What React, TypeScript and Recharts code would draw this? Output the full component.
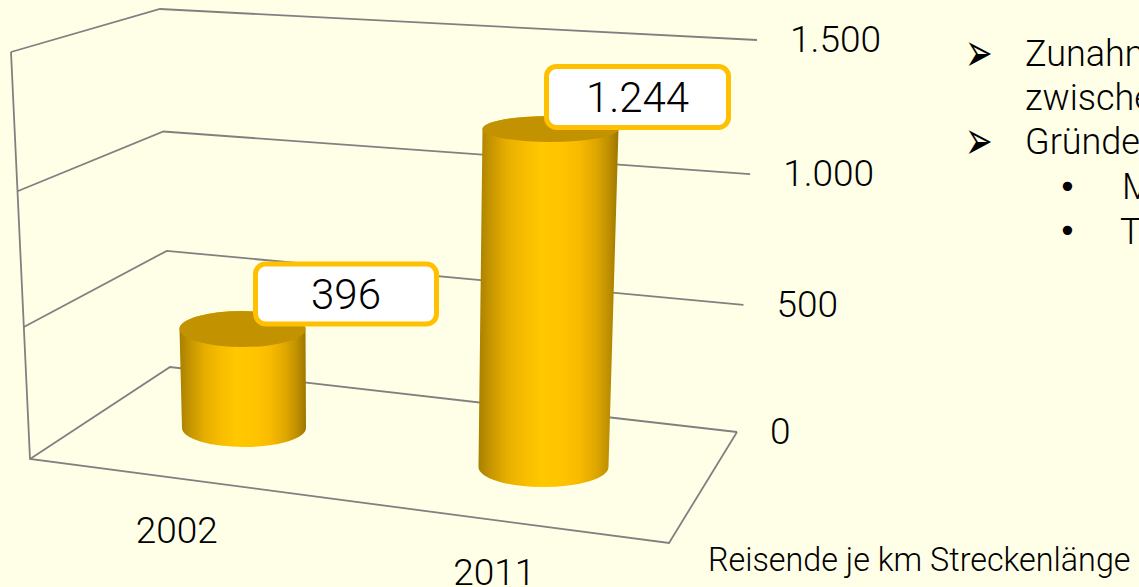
import React from "react";
import { ComposedChart, Bar, XAxis, YAxis, LabelList, CartesianGrid } from "recharts";

const categories = ["2002", "2011"];
const passengersPerKm = [396, 1244];
const valueTicks = [0, 500, 1000, 1500];
const sideNotes = ["Zunahme", "zwischen", "Gründe", "M", "T"];
const footnote = "Reisende je km Streckenlänge";

const data = categories.map((year, i) => ({ year, value: passengersPerKm[i] }));

const W = 1139;
const H = 587;
const PLOT_TOP = 40;
const PLOT_BOTTOM = 440;
const PLOT_LEFT = 92.5;
const PLOT_RIGHT = 693.5;
const FONT = "Roboto, 'Liberation Sans', sans-serif";
const BG = "#FFFFE8";
const GRID = "#808080";
const GOLD = "#FFC000";
const INK = "#000";

// perspective of the pseudo 3D box
const LEFT = { x0: 30, y0: 459, x1: 11, y1: 52 };
const BACK = { x0: 170, y0: 367, x1: 160, y1: 9 };
const RIGHT = { x0: 737, y0: 432, x1: 757, y1: 40 };
const FRONT_RIGHT = { x: 669, y: 543 };

const ease = (t: number) => t - 0.04 * t * (1 - t);
const project = (c: typeof LEFT, t: number) => {
  const e = ease(t);
  return { x: c.x0 + (c.x1 - c.x0) * e, y: c.y0 + (c.y1 - c.y0) * e };
};
const fmt = (v: number) => new Intl.NumberFormat("de-DE").format(v);

// per-category perspective adjustment of the cylinders
const depth = [
  { dy: -12, k: 0.9375, topDx: -0.5, botDx: 1, topRx: 63, topRy: 18, botRx: 62, botRy: 19, labelDx: 103.5, labelDy: -35, labelW: 181, labelH: 60 },
  { dy: 27, k: 1.019, topDx: 7, botDx: 0, topRx: 68, topRy: 13, botRx: 65, botRy: 20, labelDx: 87, labelDy: -32, labelW: 182, labelH: 61 },
];
const tickOffsets = [
  { dx: -66, y: 530 },
  { dx: -49, y: 572 },
];

const topCenter = (p: any) => {
  const d = depth[p.index];
  const cx = p.x + p.width / 2 + d.topDx;
  const base = p.y + p.height + d.dy;
  return { cx, cy: base - p.height * d.k, base };
};

const Cylinder = (p: any) => {
  const d = depth[p.index];
  const { cx, cy, base } = topCenter(p);
  const bx = p.x + p.width / 2 + d.botDx;
  const id = `cyl-${p.index}`;
  const body =
    `M${cx - d.topRx},${cy} L${bx - d.botRx},${base} ` +
    `A${d.botRx},${d.botRy} 0 0 0 ${bx + d.botRx},${base} ` +
    `L${cx + d.topRx},${cy} A${d.topRx},${d.topRy} 0 0 0 ${cx - d.topRx},${cy} Z`;
  return (
    <g>
      <defs>
        <linearGradient id={id} x1="0" x2="1" y1="0" y2="0">
          <stop offset="0" stopColor="#A88000" />
          <stop offset="0.08" stopColor="#C49400" />
          <stop offset="0.2" stopColor="#E6AE00" />
          <stop offset="0.32" stopColor="#F7BC00" />
          <stop offset="0.45" stopColor="#FFC800" />
          <stop offset="0.6" stopColor="#FFC400" />
          <stop offset="0.72" stopColor="#F8BA00" />
          <stop offset="0.84" stopColor="#DEA600" />
          <stop offset="0.93" stopColor="#BE8F00" />
          <stop offset="1" stopColor="#9C7600" />
        </linearGradient>
      </defs>
      <path d={body} fill={`url(#${id})`} />
      <ellipse cx={cx} cy={cy} rx={d.topRx} ry={d.topRy} fill="#C29200" />
    </g>
  );
};

const ValueLabel = (p: any) => {
  const d = depth[p.index];
  const { cx, cy } = topCenter(p);
  const lx = cx + d.labelDx;
  const ly = cy + d.labelDy;
  return (
    <g>
      <rect x={lx - d.labelW / 2} y={ly - d.labelH / 2} width={d.labelW} height={d.labelH} rx={10} fill="#FFFFFF" stroke={GOLD} strokeWidth={5} />
      <text x={lx} y={ly + 15} textAnchor="middle" fontFamily={FONT} fontWeight={300} fontSize={42} fill={INK}>
        {fmt(p.value)}
      </text>
    </g>
  );
};

const GridLine = (p: any) => {
  const t = (PLOT_BOTTOM - p.y1) / (PLOT_BOTTOM - PLOT_TOP);
  const l = project(LEFT, t);
  const b = project(BACK, t);
  const r = project(RIGHT, t);
  const isFloor = t < 0.001;
  const top = project(LEFT, 1);
  return (
    <g>
      <polyline points={`${l.x},${l.y} ${b.x},${b.y} ${r.x},${r.y}`} fill="none" stroke={GRID} strokeWidth={1.8} />
      {isFloor && (
        <polyline
          points={`${top.x},${top.y} ${l.x},${l.y} ${FRONT_RIGHT.x},${FRONT_RIGHT.y} ${r.x},${r.y}`}
          fill="none"
          stroke={GRID}
          strokeWidth={1.8}
        />
      )}
    </g>
  );
};

const ValueTick = (p: any) => {
  const t = (PLOT_BOTTOM - p.y) / (PLOT_BOTTOM - PLOT_TOP);
  const r = project(RIGHT, t);
  return (
    <text x={r.x + 33} y={r.y + 12} fontFamily={FONT} fontWeight={300} fontSize={37} fill={INK}>
      {fmt(p.payload.value)}
    </text>
  );
};

const YearTick = (p: any) => {
  const o = tickOffsets[p.index];
  return (
    <text x={p.x + o.dx} y={o.y + 13} textAnchor="middle" fontFamily={FONT} fontWeight={300} fontSize={37} fill={INK}>
      {p.payload.value}
    </text>
  );
};

const noteStyle = (left: number, top: number, size = 36, family = FONT): React.CSSProperties => ({
  position: "absolute",
  left,
  top,
  fontFamily: family,
  fontWeight: family === FONT ? 300 : 400,
  fontSize: size,
  lineHeight: "44px",
  color: INK,
  whiteSpace: "nowrap",
});

const SYMBOLS = "'DejaVu Sans', sans-serif";
const arrowStyle = (left: number, top: number): React.CSSProperties => ({
  ...noteStyle(left, top, 30, SYMBOLS),
  transform: "scale(1.1, 1.8)",
  transformOrigin: "left center",
});

export default function App() {
  return (
    <div style={{ position: "fixed", left: 0, top: 0, width: W, height: H, overflow: "hidden", background: BG }}>
      <ComposedChart
        width={W}
        height={H}
        data={data}
        margin={{ top: PLOT_TOP, bottom: H - PLOT_BOTTOM - 30, left: PLOT_LEFT, right: W - PLOT_RIGHT - 60 }}
      >
        <CartesianGrid vertical={false} horizontal={(p: any) => <GridLine key={p.y1} {...p} />} syncWithTicks />
        <YAxis
          orientation="right"
          width={60}
          domain={[0, 1500]}
          ticks={valueTicks}
          interval={0}
          axisLine={false}
          tickLine={false}
          tick={<ValueTick />}
        />
        <XAxis dataKey="year" height={30} interval={0} axisLine={false} tickLine={false} tick={<YearTick />} />
        <Bar dataKey="value" barSize={125} isAnimationActive={false} shape={<Cylinder />}>
          <LabelList dataKey="value" content={<ValueLabel />} />
        </Bar>
      </ComposedChart>

      <div style={arrowStyle(965, 31)}>➢</div>
      <div style={noteStyle(1025, 32)}>{sideNotes[0]}</div>
      <div style={noteStyle(1025, 76)}>{sideNotes[1]}</div>
      <div style={arrowStyle(965, 119)}>➢</div>
      <div style={noteStyle(1025, 120)}>{sideNotes[2]}</div>
      <div style={noteStyle(1058, 165, 32, SYMBOLS)}>•</div>
      <div style={noteStyle(1122, 165)}>{sideNotes[3]}</div>
      <div style={noteStyle(1058, 209, 32, SYMBOLS)}>•</div>
      <div style={noteStyle(1120, 210)}>{sideNotes[4]}</div>
      <div style={noteStyle(708, 538, 32.3)}>{footnote}</div>
    </div>
  );
}
